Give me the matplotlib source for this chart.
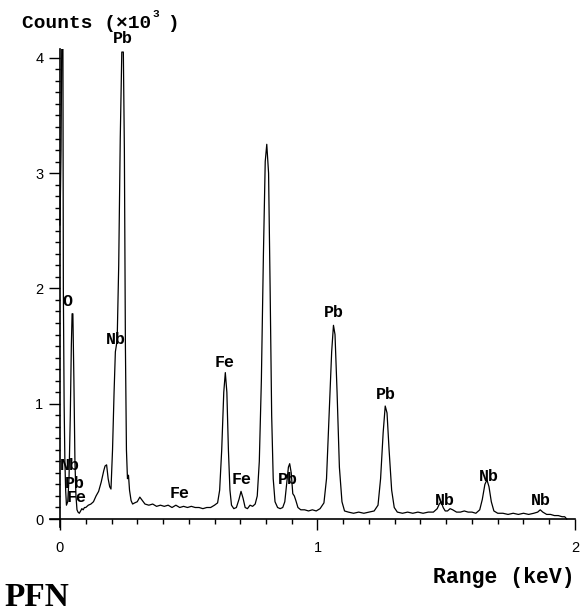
import matplotlib
matplotlib.use("Agg")
import matplotlib.pyplot as plt
from matplotlib.ticker import MultipleLocator, FixedLocator

# ---- data (energy in keV, counts in thousands) ----
energy = [
    0.000, 0.004, 0.008, 0.011, 0.013, 0.016, 0.019, 0.022, 0.025, 0.030,
    0.035, 0.040, 0.044, 0.047, 0.050, 0.054, 0.058, 0.062, 0.066, 0.070,
    0.075, 0.080, 0.085, 0.090, 0.095, 0.100, 0.110, 0.120, 0.130, 0.140,
    0.150, 0.160, 0.170, 0.175, 0.181, 0.187, 0.193, 0.198, 0.204, 0.210,
    0.215, 0.222, 0.228, 0.234, 0.240, 0.246, 0.250, 0.254, 0.258, 0.262,
    0.266, 0.270, 0.276, 0.282, 0.290, 0.300, 0.310, 0.320, 0.330, 0.345,
    0.360, 0.375, 0.390, 0.405, 0.420, 0.435, 0.450, 0.465, 0.480, 0.495,
    0.510, 0.525, 0.540, 0.555, 0.570, 0.585, 0.600, 0.612, 0.620, 0.628,
    0.636, 0.642, 0.648, 0.654, 0.660, 0.666, 0.675, 0.685, 0.695, 0.703,
    0.711, 0.719, 0.728, 0.738, 0.748, 0.758, 0.766, 0.774, 0.782, 0.790,
    0.797, 0.803, 0.810, 0.816, 0.822, 0.828, 0.835, 0.845, 0.855, 0.865,
    0.873, 0.880, 0.887, 0.892, 0.898, 0.904, 0.910, 0.916, 0.924, 0.935,
    0.950, 0.965, 0.980, 0.995, 1.010, 1.025, 1.035, 1.045, 1.055, 1.062,
    1.068, 1.076, 1.085, 1.095, 1.105, 1.120, 1.140, 1.160, 1.180, 1.200,
    1.220, 1.235, 1.245, 1.255, 1.263, 1.270, 1.278, 1.288, 1.298, 1.310,
    1.330, 1.350, 1.370, 1.390, 1.410, 1.430, 1.450, 1.465, 1.473, 1.480,
    1.488, 1.496, 1.505, 1.515, 1.525, 1.540, 1.555, 1.570, 1.585, 1.600,
    1.615, 1.630, 1.640, 1.650, 1.658, 1.666, 1.675, 1.685, 1.700, 1.720,
    1.740, 1.760, 1.780, 1.800, 1.820, 1.840, 1.855, 1.865, 1.875, 1.890,
    1.905, 1.920, 1.935, 1.950, 1.960, 1.968,
]
counts = [
    2.55, 3.20, 4.50, 4.50, 2.00, 1.00, 0.50, 0.25, 0.12, 0.15,
    0.35, 0.90, 1.50, 1.78, 1.78, 1.20, 0.50, 0.20, 0.08, 0.06,
    0.05, 0.07, 0.09, 0.08, 0.10, 0.10, 0.12, 0.13, 0.15, 0.20,
    0.24, 0.32, 0.42, 0.46, 0.47, 0.35, 0.28, 0.26, 0.60, 1.10,
    1.45, 1.55, 2.20, 3.30, 4.05, 4.05, 3.20, 1.50, 0.60, 0.35,
    0.38, 0.25, 0.16, 0.13, 0.14, 0.15, 0.19, 0.16, 0.13, 0.12,
    0.13, 0.11, 0.12, 0.11, 0.12, 0.10, 0.12, 0.10, 0.11, 0.10,
    0.11, 0.10, 0.10, 0.09, 0.10, 0.10, 0.12, 0.14, 0.25, 0.60,
    1.10, 1.27, 1.10, 0.60, 0.25, 0.12, 0.09, 0.10, 0.17, 0.24,
    0.18, 0.10, 0.09, 0.12, 0.11, 0.13, 0.20, 0.50, 1.20, 2.30,
    3.10, 3.25, 3.00, 2.00, 0.90, 0.35, 0.15, 0.10, 0.09, 0.10,
    0.15, 0.30, 0.45, 0.48, 0.40, 0.22, 0.20, 0.16, 0.10, 0.08,
    0.08, 0.07, 0.08, 0.07, 0.09, 0.14, 0.35, 0.90, 1.45, 1.68,
    1.60, 1.10, 0.45, 0.15, 0.07, 0.06, 0.05, 0.06, 0.05, 0.06,
    0.07, 0.12, 0.35, 0.75, 0.98, 0.92, 0.60, 0.25, 0.10, 0.06,
    0.05, 0.06, 0.05, 0.06, 0.05, 0.06, 0.06, 0.09, 0.13, 0.15,
    0.10, 0.07, 0.07, 0.09, 0.08, 0.06, 0.06, 0.07, 0.06, 0.06,
    0.05, 0.08, 0.17, 0.30, 0.34, 0.28, 0.15, 0.07, 0.05, 0.05,
    0.04, 0.05, 0.04, 0.05, 0.04, 0.05, 0.06, 0.08, 0.06, 0.04,
    0.04, 0.03, 0.03, 0.02, 0.02, 0.00,
]

peak_labels = ["Pb", "O", "Nb", "Pb", "Fe", "Nb", "Fe", "Fe", "Fe",
               "Pb", "Pb", "Pb", "Nb", "Nb", "Nb"]
label_x = [0.245, 0.027, 0.039, 0.058, 0.066, 0.217, 0.466, 0.641, 0.707,
           0.885, 1.064, 1.266, 1.495, 1.666, 1.868]
label_y = [4.17, 1.89, 0.46, 0.31, 0.19, 1.56, 0.22, 1.36, 0.34,
           0.34, 1.79, 1.08, 0.16, 0.37, 0.16]

x_ticks = [0, 1, 2]
y_ticks = [0, 1, 2, 3, 4]

W, H = 584, 611
fig = plt.figure(figsize=(W / 100, H / 100), dpi=100)
fig.patch.set_facecolor("white")

# axes placement: x from -0.04 to 2.0 keV, y from -0.07 to 4.08
ax = fig.add_axes([49.7 / W, 1 - 527.1 / H, (575 - 49.7) / W, (527.1 - 48.6) / H])
ax.set_xlim(-0.04, 2.0)
ax.set_ylim(-0.07, 4.08)
ax.set_facecolor("white")

ax.plot(energy, counts, color="black", lw=0.9)

for s in ["top", "right"]:
    ax.spines[s].set_visible(False)
ax.spines["left"].set_position(("data", 0))
ax.spines["bottom"].set_position(("data", 0))
ax.spines["left"].set_linewidth(1.2)
ax.spines["bottom"].set_linewidth(1.2)

ax.xaxis.set_major_locator(FixedLocator(x_ticks))
ax.yaxis.set_major_locator(FixedLocator(y_ticks))
ax.xaxis.set_minor_locator(MultipleLocator(0.1))
ax.yaxis.set_minor_locator(MultipleLocator(0.1))
ax.set_xticklabels([str(v) for v in x_ticks])
ax.set_yticklabels([str(v) for v in y_ticks])

ax.tick_params(axis="both", which="major", direction="out", length=8, width=1.0,
               labelsize=10.5, colors="black")
ax.tick_params(axis="both", which="minor", direction="out", length=3.5, width=1.0)
ax.tick_params(axis="x", which="major", pad=8)
ax.tick_params(axis="y", which="major", pad=4)
for lab in ax.get_xticklabels() + ax.get_yticklabels():
    lab.set_fontfamily("Liberation Sans")

mono = "Liberation Mono"
for t, xx, yy in zip(peak_labels, label_x, label_y):
    ax.text(xx, yy, t, ha="center", va="center", fontsize=12,
            family=mono, fontweight="bold", clip_on=False)


def fp(x, y):
    return x / W, 1 - y / H


fig.text(*fp(22, 23), "Counts (×10", ha="left", va="center", fontsize=14,
         family=mono, fontweight="bold")
fig.text(*fp(152, 14), "3", ha="left", va="center", fontsize=8,
         family=mono, fontweight="bold")
fig.text(*fp(167, 23), ")", ha="left", va="center", fontsize=14,
         family=mono, fontweight="bold")

fig.text(*fp(433, 578), "Range (keV)", ha="left", va="center", fontsize=15.5,
         family=mono, fontweight="bold")

fig.text(*fp(4, 597), "PFN", ha="left", va="center", fontsize=24,
         family="Liberation Serif", fontweight="bold")

fig.savefig("out.png", dpi=100, facecolor="white")
